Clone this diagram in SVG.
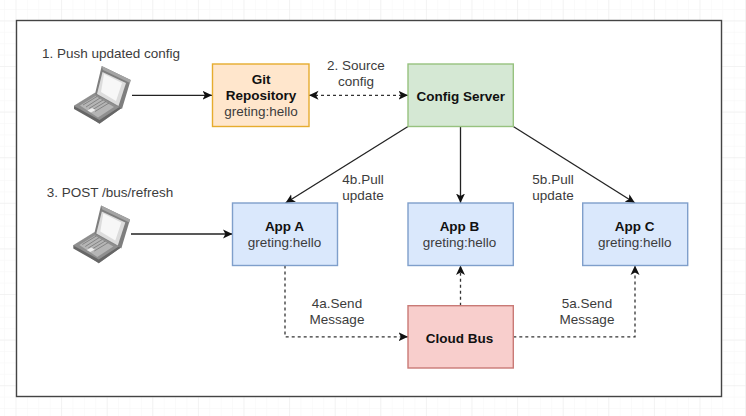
<svg xmlns="http://www.w3.org/2000/svg" xmlns:xlink="http://www.w3.org/1999/xlink" width="746" height="416" viewBox="0 0 746 416">
  <style>
    text { font-family: "Liberation Sans", Arial, sans-serif; font-size: 13.5px; fill: #3c3c3c; text-anchor: middle; }
    text.b { font-weight: bold; fill: #111; }
    .box { stroke-width: 1.4; }
    .git { fill: #ffe6cc; stroke: #e6ac2e; }
    .cfg { fill: #d5e8d4; stroke: #97c27f; }
    .app { fill: #dae8fc; stroke: #7f9fcb; }
    .bus { fill: #f8cecc; stroke: #c97a76; }
    .line { fill: none; stroke: #222; stroke-width: 1.3; }
    .dash { stroke-dasharray: 3 3; stroke: #333; }
  </style>
  <defs>
    <pattern id="minor" width="11.4" height="11.4" patternUnits="userSpaceOnUse" x="15.5" y="20.4">
      <path d="M0 0H11.4M0 0V11.4" fill="none" stroke="#f6f6f6" stroke-width="1"/>
    </pattern>
    <pattern id="major" width="45.6" height="45.6" patternUnits="userSpaceOnUse" x="15.5" y="20.4">
      <path d="M0 0H45.6M0 0V45.6" fill="none" stroke="#ececec" stroke-width="1"/>
    </pattern>
    <marker id="head" viewBox="0 0 10 10" refX="9.5" refY="5" markerWidth="10" markerHeight="10" markerUnits="userSpaceOnUse" orient="auto-start-reverse">
      <path d="M0 0.5L9.5 5L0 9.5L2.4 5Z" fill="#111"/>
    </marker>
    <g id="laptop">
      <polygon points="74,106 95,93 121,108 99.5,123.5" fill="#8f8f8f" stroke="#777" stroke-width="0.5"/>
      <polygon points="74,106 99.5,120 121,106 121,108.5 99.5,123.5 74,109" fill="#666"/>
      <polygon points="80,105.5 95.5,96 114,107 98,117.5" fill="#b5b5b5"/>
      <path d="M83 105L97 96.5M86 107L100 98M89 108.5L103 100M92 110L106 101.5M95 111.5L109 103" stroke="#777" stroke-width="0.8" fill="none"/>
      <polygon points="87.5,110.5 92,108 95.5,110 91,112.5" fill="#eee"/>
      <polygon points="101.7,66 130.7,80 122,109 119,107 95,94" fill="#7e7e7e"/>
      <polygon points="101.7,66 130.7,80 130,83 103,70" fill="#a4a4a4"/>
      <polygon points="102.5,72 126,83 118.5,106 97,94" fill="#dcdcdc"/>
      <polygon points="104,74 122,83 116,101 101,92" fill="#f7f7f7"/>
    </g>
  </defs>

  <!-- page background and grid -->
  <rect width="746" height="416" fill="#fff"/>
  <rect width="746" height="416" fill="url(#minor)"/>
  <rect width="746" height="416" fill="url(#major)"/>
  <rect x="16.5" y="20.5" width="705" height="376" fill="#fff" stroke="#444" stroke-width="1.4"/>

  <!-- connectors -->
  <g id="connectors">
    <path class="line" d="M132 95.3H212" marker-end="url(#head)"/>
    <path class="line dash" d="M309 95.3H408" marker-start="url(#head)" marker-end="url(#head)"/>
    <path class="line" d="M131 234H232.5" marker-end="url(#head)"/>
    <path class="line" d="M408 126.5L285.5 203" marker-end="url(#head)"/>
    <path class="line" d="M460.5 126.5V203" marker-end="url(#head)"/>
    <path class="line" d="M513.3 126.5L635 203" marker-end="url(#head)"/>
    <path class="line dash" d="M285 265.5V336.8H408" marker-end="url(#head)"/>
    <path class="line dash" d="M460.5 305.7V265.5" marker-end="url(#head)"/>
    <path class="line dash" d="M513.3 336.8H635V265.5" marker-end="url(#head)"/>
  </g>

  <!-- workstations -->
  <g id="laptop-push"><use href="#laptop"/></g>
  <g id="laptop-post"><use href="#laptop" x="-0.7" y="139.5"/></g>

  <!-- nodes -->
  <g id="git-repository">
    <rect class="box git" x="212.5" y="64" width="96.5" height="62.5"/>
    <text class="b" x="261" y="84">Git</text>
    <text class="b" x="261" y="100">Repository</text>
    <text x="261" y="116">greting:hello</text>
  </g>
  <g id="config-server">
    <rect class="box cfg" x="408" y="64" width="105.3" height="62.5"/>
    <text class="b" x="460.7" y="100.5">Config Server</text>
  </g>
  <g id="app-a">
    <rect class="box app" x="232.5" y="203" width="105" height="62.5"/>
    <text class="b" x="284.5" y="231">App A</text>
    <text x="284.5" y="247">greting:hello</text>
  </g>
  <g id="app-b">
    <rect class="box app" x="408" y="203" width="105.3" height="62.5"/>
    <text class="b" x="459.5" y="231">App B</text>
    <text x="459.5" y="247">greting:hello</text>
  </g>
  <g id="app-c">
    <rect class="box app" x="582.7" y="203" width="105" height="62.5"/>
    <text class="b" x="634.7" y="231">App C</text>
    <text x="634.7" y="247">greting:hello</text>
  </g>
  <g id="cloud-bus">
    <rect class="box bus" x="408" y="305.7" width="105.3" height="62.3"/>
    <text class="b" x="459.5" y="343">Cloud Bus</text>
  </g>

  <!-- step labels -->
  <g id="labels">
    <text x="111" y="58">1. Push updated config</text>
    <text x="110" y="197">3. POST /bus/refresh</text>
    <text x="356" y="70">2. Source</text>
    <text x="356" y="85.5">config</text>
    <text x="363" y="184">4b.Pull</text>
    <text x="363" y="199.5">update</text>
    <text x="553" y="184">5b.Pull</text>
    <text x="553" y="199.5">update</text>
    <text x="337" y="308">4a.Send</text>
    <text x="337" y="324">Message</text>
    <text x="587" y="308">5a.Send</text>
    <text x="587" y="324">Message</text>
  </g>
</svg>
